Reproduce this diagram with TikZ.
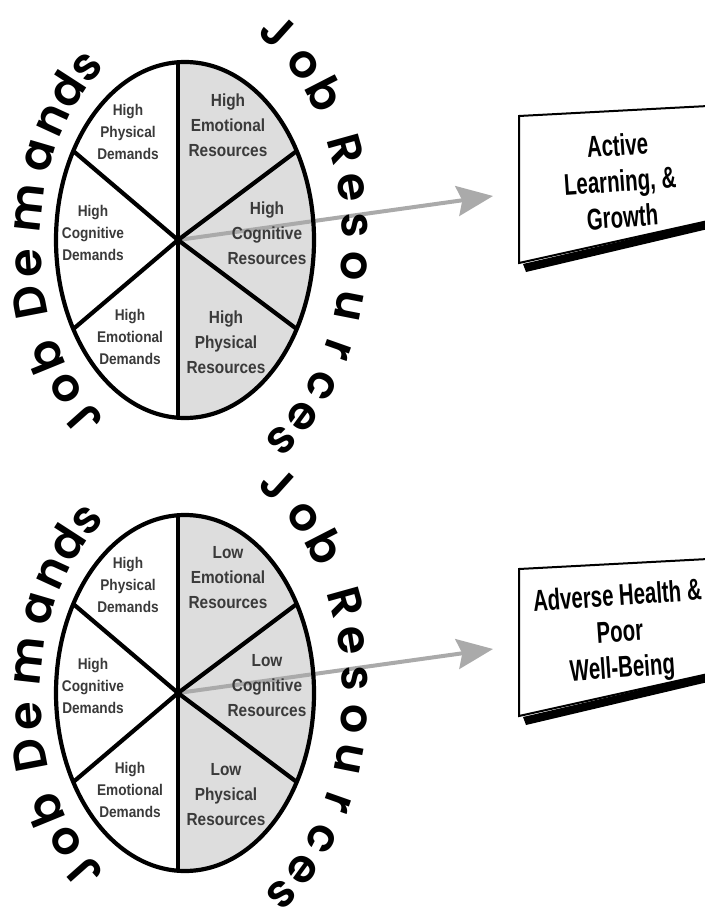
\documentclass[tikz,border=0pt]{standalone}
\usepackage{fontspec}
\setmainfont{Liberation Sans}
\IfFontExistsTF{Poppins SemiBold}
  {\newfontfamily\arcfont{Poppins SemiBold}\def\arcsize{46}}
  {\newfontfamily\arcfont{Poppins}[UprightFont=*-Bold]\def\arcsize{43}}
\newfontfamily\cellfont[FakeStretch=0.88]{Liberation Sans}
\newfontfamily\boxfont[FakeStretch=0.68]{Liberation Sans}
\usetikzlibrary{arrows.meta}

\definecolor{sector}{RGB}{221,221,221}
\definecolor{pointer}{RGB}{170,170,170}
\definecolor{celltext}{RGB}{58,58,58}

\tikzset{
  rim/.style={draw=black, line width=4.2pt},
  spoke/.style={draw=black, line width=4.2pt, line join=round},
  pointer arrow/.style={draw=pointer, line width=4pt,
    -{Stealth[length=36pt, width=30pt, inset=5pt, fill=pointer]}},
  leftcell/.style={font=\cellfont\bfseries\fontsize{15.5}{22}\selectfont,
    text=celltext, align=center, inner sep=0pt},
  rightcell/.style={font=\cellfont\bfseries\fontsize{17.5}{25}\selectfont,
    text=celltext, align=center, inner sep=0pt},
  arcletter/.style={font=\arcfont\fontsize{\arcsize}{\arcsize}\selectfont,
    inner sep=0pt, text height=30pt, text depth=5pt, anchor=center},
  outcome/.style={font=\boxfont\bfseries\fontsize{30}{36}\selectfont,
    align=center, inner sep=0pt, rotate=4},
  card/.style={fill=white, draw=black, line width=2pt},
  card shadow/.style={fill=black},
}

% One wheel of demands and resources with its outcome card.
% #1 vertical offset, #2 name prefix, #3 resource level, #4 outcome text
\newcommand\jdrpanel[4]{%
\begin{scope}[shift={(0,#1)}]
  % shaded resources half
  \begin{scope}
    \clip (178,40) rectangle (340,440);
    \fill[sector] (185,240) ellipse [x radius=129, y radius=178];
  \end{scope}
  \coordinate (#2hub) at (178,240);
  \coordinate (#2tip) at (493,196);
  \draw[pointer arrow] (#2hub) -- (#2tip);
  % six sectors
  \coordinate (#2top) at (178,62.3);
  \coordinate (#2bot) at (178,417.7);
  \foreach \ang/\nm in {30/ur,150/ul,210/ll,330/lr}
    \coordinate (#2\nm) at ({185+129*cos(\ang)},{240-178*sin(\ang)});
  \draw[spoke] (#2top) -- (#2bot);
  \draw[spoke] (#2ul) -- (#2hub) -- (#2lr);
  \draw[spoke] (#2ll) -- (#2hub) -- (#2ur);
  \draw[rim] (185,240) ellipse [x radius=129, y radius=178];
  % sector labels
  \node[leftcell] (#2dphys) at (128,132) {High\\Physical\\Demands};
  \node[leftcell] (#2dcog) at (93,233) {High\\Cognitive\\Demands};
  \node[leftcell] (#2demo) at (130,337) {High\\Emotional\\Demands};
  \node[rightcell] (#2remo) at (228,125) {#3\\Emotional\\Resources};
  \node[rightcell] (#2rcog) at (267,233) {#3\\Cognitive\\Resources};
  \node[rightcell] (#2rphys) at (226,342) {#3\\Physical\\Resources};
  % curved headings
  \foreach \glyph/\ang [count=\i] in
      {J/232,o/221,b/210.5,D/195.4,e/185.2,m/171,a/157,n/146.5,d/137,s/128}
    \node[arcletter, rotate={atan2(154*sin(\ang),222*cos(\ang))-90}]
      (#2dm\i) at ({182+154*cos(\ang)},{243-222*sin(\ang)}) {\glyph};
  \foreach \glyph/\ang [count=\i] in
      {J/57.5,o/45.5,b/36,R/21.5,e/12.3,s/3.5,o/-6,u/-15.5,r/-26.5,c/-36.5,e/-46,s/-55}
    \node[arcletter, rotate={atan2(173*sin(\ang),245*cos(\ang))-90}]
      (#2rs\i) at ({182+173*cos(\ang)},{240-245*sin(\ang)}) {\glyph};
  % outcome card
  \coordinate (#2ctl) at (519,116);
  \coordinate (#2ctr) at (708,106);
  \coordinate (#2cbr) at (708,221);
  \coordinate (#2cbl) at (519,263);
  \fill[card shadow] (523,264) -- (708,221) -- (708,229) -- (526,272) -- cycle;
  \draw[card] (#2ctl) -- (#2ctr) -- (#2cbr) -- (#2cbl) -- cycle;
  \node[outcome] (#2out) at (620,181) {#4};
\end{scope}}

\begin{document}
\begin{tikzpicture}[x=1pt, y=-1pt]
  \useasboundingbox (0,0) rectangle (704,915);
  \fill[white] (0,0) rectangle (704,915);
  \jdrpanel{0}{a}{High}{Active\\Learning, \&\\Growth}
  \jdrpanel{453}{b}{Low}{Adverse Health \&\\Poor\\Well-Being}
\end{tikzpicture}
\end{document}
